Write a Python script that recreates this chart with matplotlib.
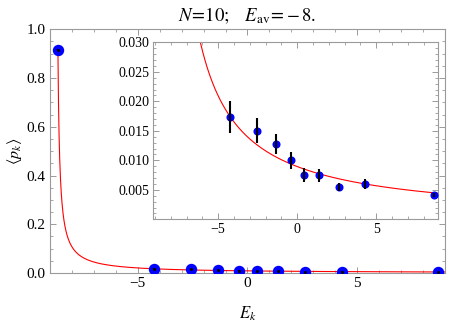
import matplotlib
matplotlib.use("Agg")
import matplotlib.pyplot as plt
import numpy as np
from matplotlib.ticker import MultipleLocator, FormatStrFormatter

plt.rcParams['font.family'] = ['Liberation Serif', 'DejaVu Serif']
plt.rcParams['mathtext.fontset'] = 'stix'

# Data
energies = [-8.64, -4.24, -2.56, -1.35, -0.38, 0.44, 1.40, 2.62, 4.29, 8.67]
probs = [0.915, 0.0173, 0.0150, 0.0128, 0.0100, 0.0075, 0.0075, 0.0055, 0.0060, 0.0041]
errors = [0.003, 0.0027, 0.0021, 0.0017, 0.0014, 0.0012, 0.0011, 0.0007, 0.0009, 0.0003]

# Theory curve p(E) = A / (E - C), parameters
curve_A = 0.078
curve_C = -8.725

main_xticks = [-5, 0, 5]
main_yticks = [0.0, 0.2, 0.4, 0.6, 0.8, 1.0]
inset_yticks = [0.005, 0.010, 0.015, 0.020, 0.025, 0.030]

frame_col = '#9a9a9a'

def curve(E):
    return curve_A / (np.asarray(E) - curve_C)

fig = plt.figure(figsize=(4.64, 3.22), dpi=100)
ax = fig.add_axes([0.1078, 0.152, 0.851, 0.757])

def style(a, fs):
    for s in a.spines.values():
        s.set_color(frame_col)
        s.set_linewidth(0.8)
    a.tick_params(which='both', direction='in', top=True, right=True,
                  color=frame_col, labelsize=fs, pad=3)
    a.tick_params(which='major', length=4, width=0.7)
    a.tick_params(which='minor', length=2, width=0.6)

# main plot
xs = np.linspace(energies[0], 9.0, 2000)
ax.plot(xs, curve(xs), color='red', lw=0.8, zorder=2)
ax.plot(energies, probs, 'o', color='blue', ms=7.2, zorder=3)
ax.errorbar(energies, probs, yerr=errors, fmt='none', ecolor='black',
            elinewidth=1.6, zorder=4)
ax.plot(energies, probs, 'o', color='black', ms=1.2, zorder=5)
ax.set_xlim(-9.0, 9.0)
ax.set_ylim(0.0, 1.0)
ax.set_xticks(main_xticks)
ax.set_yticks(main_yticks)
ax.xaxis.set_minor_locator(MultipleLocator(1))
ax.yaxis.set_minor_locator(MultipleLocator(0.05))
ax.yaxis.set_major_formatter(FormatStrFormatter('%.1f'))
ax.set_xticklabels(['\u22125', '0', '5'])
style(ax, 11)
ax.set_xlabel(r'$E_k$', fontsize=12, labelpad=10)
ax.set_ylabel(r'$\langle p_k \rangle$', fontsize=11.5)
ax.yaxis.set_label_coords(-0.065, 0.5)
ax.set_title(r'$N\!=\!10;\quad E_{\rm av}\!=\!-8.$', fontsize=13.5, pad=6)

# inset
ins = fig.add_axes([0.3304, 0.3189, 0.6142, 0.5497])
xs2 = np.linspace(-7.0, 8.92, 2000)
ins.plot(xs2, curve(xs2), color='red', lw=0.8, zorder=2)
ins.plot(energies[1:], probs[1:], 'o', color='blue', ms=4.8, zorder=3)
ins.errorbar(energies[1:], probs[1:], yerr=errors[1:], fmt='none',
             ecolor='black', elinewidth=1.5, zorder=4)
ins.set_xlim(-9.1, 8.92)
ins.set_ylim(0.0, 0.030)
ins.set_xticks(main_xticks)
ins.set_xticklabels(['\u22125', '0', '5'])
ins.set_yticks(inset_yticks)
ins.yaxis.set_major_formatter(FormatStrFormatter('%.3f'))
ins.xaxis.set_minor_locator(MultipleLocator(1))
ins.yaxis.set_minor_locator(MultipleLocator(0.001))
style(ins, 10)

fig.savefig('out.png', dpi=100)
